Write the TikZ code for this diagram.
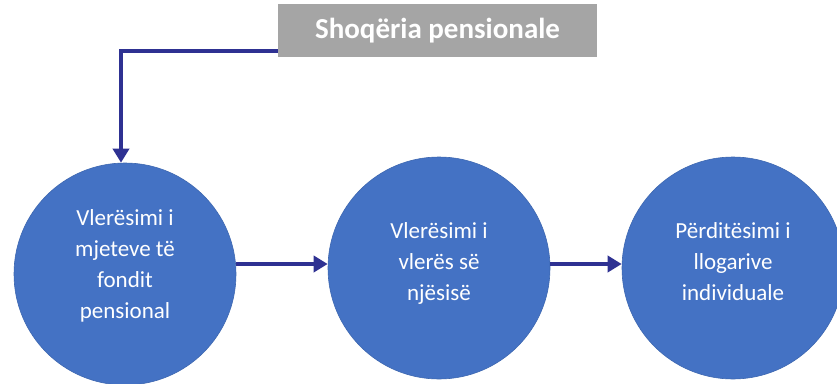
\documentclass[tikz,border=0pt]{standalone}
\usepackage{fontspec}
\setmainfont{Carlito}
\usetikzlibrary{arrows.meta}
\definecolor{cblue}{HTML}{4472C4}
\definecolor{cgray}{HTML}{A5A5A5}
\definecolor{carrow}{HTML}{2E3192}
\tikzset{
  stage/.style={circle, fill=cblue, draw=cblue!90!black, line width=0.6pt, minimum size=222pt, inner sep=0pt},
  stagetext/.style={text=white, align=center, inner sep=0pt, font=\fontsize{23}{31}\selectfont},
  topbox/.style={rectangle, fill=cgray, minimum width=319pt, minimum height=53pt, inner sep=0pt, text=white, font=\fontsize{29}{32}\selectfont\bfseries},
  conn/.style={draw=carrow, line width=4pt, -{Triangle[length=14pt,width=16pt]}}
}
\begin{document}
\begin{tikzpicture}[x=1pt,y=-1pt]
\useasboundingbox (0,0) rectangle (837,383);
\node[topbox] (top) at (437.5,30.5) {Shoqëria pensionale};
\node[stage] (c1) at (125,274) {};
\node[stage] (c2) at (439,268) {};
\node[stage] (c3) at (733,268) {};
\node[stagetext] (t1) at (125,266) {Vlerësimi i\\mjeteve të\\fondit\\pensional};
\node[stagetext] (t2) at (439,263) {Vlerësimi i\\vlerës së\\njësisë};
\node[stagetext] (t3) at (733,262) {Përditësimi i\\llogarive\\individuale};
\coordinate (bend) at (121,51);
\draw[conn] (top.west |- bend) -- (bend) -- (bend |- c1.north);
\draw[conn] (c1.east |- 0,264) -- (c2.west |- 0,264);
\draw[conn] (c2.east |- 0,264) -- (c3.west |- 0,264);
\end{tikzpicture}
\end{document}
